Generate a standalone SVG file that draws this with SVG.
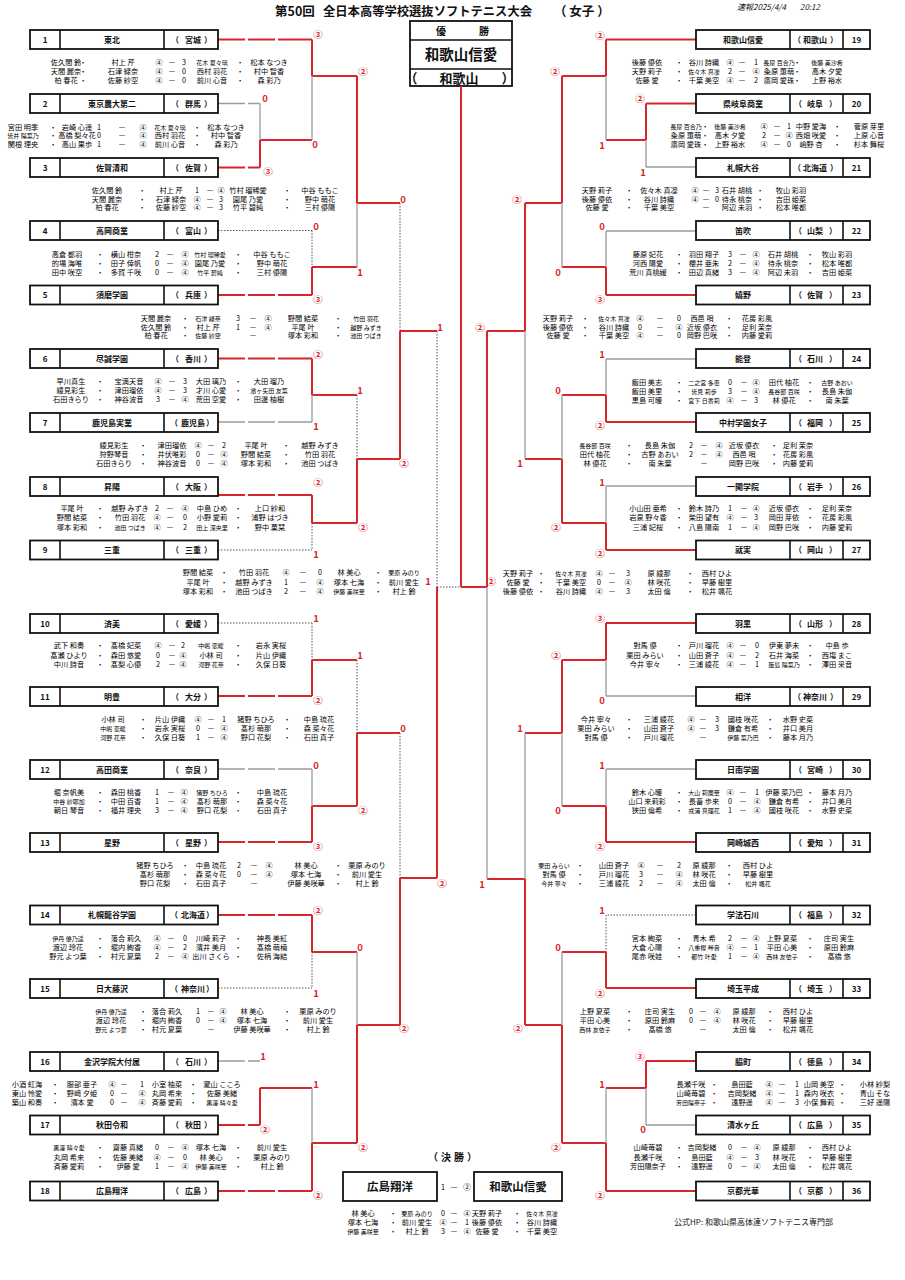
<svg xmlns="http://www.w3.org/2000/svg" width="905" height="1280" viewBox="0 0 905 1280">
<style>
text{font-family:"Noto Sans CJK JP","Noto Sans",sans-serif;fill:#111}
.bx rect{fill:#fff;stroke:#111;stroke-width:1.8}
.bx path{stroke:#111;stroke-width:1.6;fill:none}
.bx text{font-size:8px;font-weight:bold;text-anchor:middle}
.w{stroke:#d9262c;stroke-width:2;fill:none}
.l{stroke:#9a9a9a;stroke-width:1.3;fill:none}
.d{stroke:#555;stroke-width:1;stroke-dasharray:1.5 1.5;fill:none}
.g{stroke-dasharray:27 3 27 3 400}
.sc text{font-size:9.5px;font-weight:bold;fill:#d9262c;text-anchor:middle}
.m text{font-size:7.2px;text-anchor:middle;fill:#000}
.m .s{font-size:6px}
</style>

<g id="header">
<text x="275" y="16" font-size="12.5" font-weight="bold">第50回</text>
<text x="323" y="16" font-size="12.5" font-weight="bold" textLength="209" lengthAdjust="spacingAndGlyphs">全日本高等学校選抜ソフトテニス大会</text>
<text x="554" y="16" font-size="12.5" font-weight="bold">（ 女子 ）</text>
<text x="737" y="10" font-size="8" font-style="italic">速報2025/4/4</text>
<text x="800" y="10" font-size="8" font-style="italic">20:12</text>
</g>

<g id="champion" class="bx">
<rect x="410" y="21" width="102" height="65"/>
<path d="M410 40H512M410 69H512"/>
<text x="441" y="34.5" style="font-size:10px">優</text>
<text x="484" y="34.5" style="font-size:10px">勝</text>
<text x="461" y="60" style="font-size:14.5px">和歌山信愛</text>
<text y="82.5" style="font-size:13px"><tspan x="411">（</tspan><tspan x="459">和歌山</tspan><tspan x="508">）</tspan></text>
</g>

<g id="connectors">
<path class="w g" d="M218 39.5H312M218 167.5H260M218 295H312M218 358.5H312M218 495H312M218 696H312M218 842H312M218 915H312M218 1125H260M218 1191H312"/>
<path class="l g" d="M218 103.5H260M218 422H312M218 769H312M218 1061H260"/>
<path class="d" d="M218 230.5H312M218 550H312M218 623H312M218 988H312"/>
<path class="w" d="M260 140V167.5M260 140H312M312 39.5V76M312 76H357M312 267V295M312 267H357M357 76V203M357 203H400M312 358.5V395M312 395H357M312 495V523M312 523H357M357 459V523M357 459H400M400 331V459M400 331H437M312 660V696M312 660H357M312 806V842M312 806H357M357 733V806M357 733H400M312 915V952M312 952H357M260 1088V1125M260 1088H312M312 1143V1191M312 1143H357M357 1025V1143M357 1025H400M400 878V1025M400 878H437M437 587V878"/>
<path class="l" d="M260 103.5V140M312 76V140M357 203V267M312 395V422M312 769V806M312 1088V1143M357 952V1025"/>
<path class="d" d="M312 230.5V267M312 523V550M357 395V459M400 203V331M312 623V660M357 660V733M312 952V988M400 733V878M437 331V587M437 587H461"/>
<path class="w" d="M696 39.5H606M696 103.5H646M696 295H606M696 422H606M696 550H606M696 623H606M696 842H606M696 988H606M696 1061H646M696 1191H606"/>
<path class="l" d="M696 167H646M696 231H606M696 359H606M696 486H606M696 696H606M696 769H606M696 1125H646"/>
<path class="d" d="M696 915H606M606 915V952"/>
<path class="w" d="M646 103.5V140M646 140H606M606 39.5V76M606 76H562M606 267V295M606 267H562M562 76V203M562 203H525M606 395V422M606 395H562M606 523V550M606 523H562M562 459V523M562 459H525M525 203V331M525 331H487M606 623V660M606 660H562M606 806V842M606 806H562M562 660V733M562 733H525M606 952V988M606 952H562M646 1061V1088M646 1088H606M606 1143V1191M606 1143H562M562 1025V1143M562 1025H525M525 879V1025M525 879H487M487 331V587M487 587H461M461 86V587"/>
<path class="l" d="M646 140V167M606 76V140M606 231V267M562 203V267M606 359V395M606 486V523M562 395V459M525 331V459M606 660V696M606 769V806M562 733V806M646 1088V1125M606 1088V1143M562 952V1025M525 733V879M487 587V879"/>
</g>

<g id="scores" class="sc">
<text x="318" y="38">③</text><text x="265" y="102">0</text><text x="268" y="175">③</text><text x="315" y="148">0</text><text x="363" y="75">②</text>
<text x="316" y="230">0</text><text x="318" y="303">③</text><text x="360" y="276">1</text><text x="403" y="203">0</text>
<text x="318" y="358">②</text><text x="316" y="430">1</text><text x="360" y="394">1</text><text x="318" y="486">②</text><text x="316" y="558">1</text><text x="363" y="531">②</text><text x="404" y="467">②</text>
<text x="440" y="331">1</text><text x="428" y="585">1</text>
<text x="316" y="622">1</text><text x="318" y="704">②</text><text x="360" y="659">1</text><text x="316" y="769">0</text><text x="318" y="850">③</text><text x="363" y="814">②</text><text x="403" y="732">0</text>
<text x="318" y="914">②</text><text x="316" y="997">1</text><text x="360" y="951">0</text><text x="263" y="1060">1</text><text x="265" y="1133">②</text><text x="316" y="1088">1</text><text x="318" y="1199">②</text><text x="363" y="1151">②</text><text x="404" y="1032">②</text><text x="442" y="887">②</text>
<text x="600" y="39">②</text><text x="640" y="102">②</text><text x="643" y="176">1</text><text x="602" y="149">1</text><text x="555" y="75">②</text>
<text x="602" y="230">0</text><text x="600" y="303">③</text><text x="558" y="276">0</text><text x="517" y="203">②</text>
<text x="602" y="358">1</text><text x="600" y="429">②</text><text x="558" y="394">0</text><text x="602" y="486">1</text><text x="600" y="557">②</text><text x="556" y="531">②</text><text x="520" y="467">1</text>
<text x="480" y="331">②</text><text x="491" y="585">②</text>
<text x="600" y="622">③</text><text x="602" y="704">0</text><text x="556" y="659">②</text><text x="602" y="769">1</text><text x="600" y="850">②</text><text x="558" y="814">0</text><text x="520" y="732">1</text>
<text x="602" y="914">1</text><text x="600" y="997">②</text><text x="558" y="951">0</text><text x="640" y="1060">③</text><text x="643" y="1133">0</text><text x="602" y="1088">1</text><text x="600" y="1199">②</text><text x="556" y="1151">②</text><text x="518" y="1032">②</text><text x="482" y="888">1</text>
</g>

<g id="t1" class="bx" transform="translate(30,30)"><rect width="188" height="19"/><path d="M30 0V19M134 0V19"/><text x="15" y="12.8">1</text><text x="82" y="12.8">東北</text><text y="12.8"><tspan x="145">（</tspan><tspan x="163">宮城</tspan><tspan x="178">）</tspan></text></g>
<g id="t2" class="bx" transform="translate(30,94)"><rect width="188" height="19"/><path d="M30 0V19M134 0V19"/><text x="15" y="12.8">2</text><text x="82" y="12.8">東京農大第二</text><text y="12.8"><tspan x="145">（</tspan><tspan x="163">群馬</tspan><tspan x="178">）</tspan></text></g>
<g id="t3" class="bx" transform="translate(30,158)"><rect width="188" height="19"/><path d="M30 0V19M134 0V19"/><text x="15" y="12.8">3</text><text x="82" y="12.8">佐賀清和</text><text y="12.8"><tspan x="145">（</tspan><tspan x="163">佐賀</tspan><tspan x="178">）</tspan></text></g>
<g id="t4" class="bx" transform="translate(30,221)"><rect width="188" height="19"/><path d="M30 0V19M134 0V19"/><text x="15" y="12.8">4</text><text x="82" y="12.8">高岡商業</text><text y="12.8"><tspan x="145">（</tspan><tspan x="163">富山</tspan><tspan x="178">）</tspan></text></g>
<g id="t5" class="bx" transform="translate(30,285.5)"><rect width="188" height="19"/><path d="M30 0V19M134 0V19"/><text x="15" y="12.8">5</text><text x="82" y="12.8">須磨学園</text><text y="12.8"><tspan x="145">（</tspan><tspan x="163">兵庫</tspan><tspan x="178">）</tspan></text></g>
<g id="t6" class="bx" transform="translate(30,349)"><rect width="188" height="19"/><path d="M30 0V19M134 0V19"/><text x="15" y="12.8">6</text><text x="82" y="12.8">尽誠学園</text><text y="12.8"><tspan x="145">（</tspan><tspan x="163">香川</tspan><tspan x="178">）</tspan></text></g>
<g id="t7" class="bx" transform="translate(30,413)"><rect width="188" height="19"/><path d="M30 0V19M134 0V19"/><text x="15" y="12.8">7</text><text x="82" y="12.8">鹿児島実業</text><text y="12.8"><tspan x="144">（</tspan><tspan x="163">鹿児島</tspan><tspan x="180">）</tspan></text></g>
<g id="t8" class="bx" transform="translate(30,477)"><rect width="188" height="19"/><path d="M30 0V19M134 0V19"/><text x="15" y="12.8">8</text><text x="82" y="12.8">昇陽</text><text y="12.8"><tspan x="145">（</tspan><tspan x="163">大阪</tspan><tspan x="178">）</tspan></text></g>
<g id="t9" class="bx" transform="translate(30,540.5)"><rect width="188" height="19"/><path d="M30 0V19M134 0V19"/><text x="15" y="12.8">9</text><text x="82" y="12.8">三重</text><text y="12.8"><tspan x="145">（</tspan><tspan x="163">三重</tspan><tspan x="178">）</tspan></text></g>
<g id="t10" class="bx" transform="translate(30,614)"><rect width="188" height="19"/><path d="M30 0V19M134 0V19"/><text x="15" y="12.8">10</text><text x="82" y="12.8">済美</text><text y="12.8"><tspan x="145">（</tspan><tspan x="163">愛媛</tspan><tspan x="178">）</tspan></text></g>
<g id="t11" class="bx" transform="translate(30,687)"><rect width="188" height="19"/><path d="M30 0V19M134 0V19"/><text x="15" y="12.8">11</text><text x="82" y="12.8">明豊</text><text y="12.8"><tspan x="145">（</tspan><tspan x="163">大分</tspan><tspan x="178">）</tspan></text></g>
<g id="t12" class="bx" transform="translate(30,760)"><rect width="188" height="19"/><path d="M30 0V19M134 0V19"/><text x="15" y="12.8">12</text><text x="82" y="12.8">高田商業</text><text y="12.8"><tspan x="145">（</tspan><tspan x="163">奈良</tspan><tspan x="178">）</tspan></text></g>
<g id="t13" class="bx" transform="translate(30,833)"><rect width="188" height="19"/><path d="M30 0V19M134 0V19"/><text x="15" y="12.8">13</text><text x="82" y="12.8">星野</text><text y="12.8"><tspan x="145">（</tspan><tspan x="163">星野</tspan><tspan x="178">）</tspan></text></g>
<g id="t14" class="bx" transform="translate(30,905.5)"><rect width="188" height="19"/><path d="M30 0V19M134 0V19"/><text x="15" y="12.8">14</text><text x="82" y="12.8">札幌龍谷学園</text><text y="12.8"><tspan x="144">（</tspan><tspan x="163">北海道</tspan><tspan x="180">）</tspan></text></g>
<g id="t15" class="bx" transform="translate(30,979)"><rect width="188" height="19"/><path d="M30 0V19M134 0V19"/><text x="15" y="12.8">15</text><text x="82" y="12.8">日大藤沢</text><text y="12.8"><tspan x="144">（</tspan><tspan x="163">神奈川</tspan><tspan x="180">）</tspan></text></g>
<g id="t16" class="bx" transform="translate(30,1052)"><rect width="188" height="19"/><path d="M30 0V19M134 0V19"/><text x="15" y="12.8">16</text><text x="82" y="12.8">金沢学院大付属</text><text y="12.8"><tspan x="145">（</tspan><tspan x="163">石川</tspan><tspan x="178">）</tspan></text></g>
<g id="t17" class="bx" transform="translate(30,1115.5)"><rect width="188" height="19"/><path d="M30 0V19M134 0V19"/><text x="15" y="12.8">17</text><text x="82" y="12.8">秋田令和</text><text y="12.8"><tspan x="145">（</tspan><tspan x="163">秋田</tspan><tspan x="178">）</tspan></text></g>
<g id="t18" class="bx" transform="translate(30,1181.5)"><rect width="188" height="19"/><path d="M30 0V19M134 0V19"/><text x="15" y="12.8">18</text><text x="82" y="12.8">広島翔洋</text><text y="12.8"><tspan x="145">（</tspan><tspan x="163">広島</tspan><tspan x="178">）</tspan></text></g>

<g id="t19" class="bx" transform="translate(696,30)"><rect width="174" height="19"/><path d="M94 0V19M147 0V19"/><text x="47" y="12.8">和歌山信愛</text><text y="12.8"><tspan x="101">（</tspan><tspan x="119">和歌山</tspan><tspan x="138">）</tspan></text><text x="160.5" y="12.8">19</text></g>
<g id="t20" class="bx" transform="translate(696,94)"><rect width="174" height="19"/><path d="M94 0V19M147 0V19"/><text x="47" y="12.8">県岐阜商業</text><text y="12.8"><tspan x="102">（</tspan><tspan x="119">岐阜</tspan><tspan x="137">）</tspan></text><text x="160.5" y="12.8">20</text></g>
<g id="t21" class="bx" transform="translate(696,158)"><rect width="174" height="19"/><path d="M94 0V19M147 0V19"/><text x="47" y="12.8">札幌大谷</text><text y="12.8"><tspan x="101">（</tspan><tspan x="119">北海道</tspan><tspan x="138">）</tspan></text><text x="160.5" y="12.8">21</text></g>
<g id="t22" class="bx" transform="translate(696,221)"><rect width="174" height="19"/><path d="M94 0V19M147 0V19"/><text x="47" y="12.8">笛吹</text><text y="12.8"><tspan x="102">（</tspan><tspan x="119">山梨</tspan><tspan x="137">）</tspan></text><text x="160.5" y="12.8">22</text></g>
<g id="t23" class="bx" transform="translate(696,285.5)"><rect width="174" height="19"/><path d="M94 0V19M147 0V19"/><text x="47" y="12.8">嬉野</text><text y="12.8"><tspan x="102">（</tspan><tspan x="119">佐賀</tspan><tspan x="137">）</tspan></text><text x="160.5" y="12.8">23</text></g>
<g id="t24" class="bx" transform="translate(696,349)"><rect width="174" height="19"/><path d="M94 0V19M147 0V19"/><text x="47" y="12.8">能登</text><text y="12.8"><tspan x="102">（</tspan><tspan x="119">石川</tspan><tspan x="137">）</tspan></text><text x="160.5" y="12.8">24</text></g>
<g id="t25" class="bx" transform="translate(696,413)"><rect width="174" height="19"/><path d="M94 0V19M147 0V19"/><text x="47" y="12.8">中村学園女子</text><text y="12.8"><tspan x="102">（</tspan><tspan x="119">福岡</tspan><tspan x="137">）</tspan></text><text x="160.5" y="12.8">25</text></g>
<g id="t26" class="bx" transform="translate(696,477)"><rect width="174" height="19"/><path d="M94 0V19M147 0V19"/><text x="47" y="12.8">一関学院</text><text y="12.8"><tspan x="102">（</tspan><tspan x="119">岩手</tspan><tspan x="137">）</tspan></text><text x="160.5" y="12.8">26</text></g>
<g id="t27" class="bx" transform="translate(696,540.5)"><rect width="174" height="19"/><path d="M94 0V19M147 0V19"/><text x="47" y="12.8">就実</text><text y="12.8"><tspan x="102">（</tspan><tspan x="119">岡山</tspan><tspan x="137">）</tspan></text><text x="160.5" y="12.8">27</text></g>
<g id="t28" class="bx" transform="translate(696,614)"><rect width="174" height="19"/><path d="M94 0V19M147 0V19"/><text x="47" y="12.8">羽黒</text><text y="12.8"><tspan x="102">（</tspan><tspan x="119">山形</tspan><tspan x="137">）</tspan></text><text x="160.5" y="12.8">28</text></g>
<g id="t29" class="bx" transform="translate(696,687)"><rect width="174" height="19"/><path d="M94 0V19M147 0V19"/><text x="47" y="12.8">相洋</text><text y="12.8"><tspan x="101">（</tspan><tspan x="119">神奈川</tspan><tspan x="138">）</tspan></text><text x="160.5" y="12.8">29</text></g>
<g id="t30" class="bx" transform="translate(696,760)"><rect width="174" height="19"/><path d="M94 0V19M147 0V19"/><text x="47" y="12.8">日南学園</text><text y="12.8"><tspan x="102">（</tspan><tspan x="119">宮崎</tspan><tspan x="137">）</tspan></text><text x="160.5" y="12.8">30</text></g>
<g id="t31" class="bx" transform="translate(696,833)"><rect width="174" height="19"/><path d="M94 0V19M147 0V19"/><text x="47" y="12.8">岡崎城西</text><text y="12.8"><tspan x="102">（</tspan><tspan x="119">愛知</tspan><tspan x="137">）</tspan></text><text x="160.5" y="12.8">31</text></g>
<g id="t32" class="bx" transform="translate(696,905.5)"><rect width="174" height="19"/><path d="M94 0V19M147 0V19"/><text x="47" y="12.8">学法石川</text><text y="12.8"><tspan x="102">（</tspan><tspan x="119">福島</tspan><tspan x="137">）</tspan></text><text x="160.5" y="12.8">32</text></g>
<g id="t33" class="bx" transform="translate(696,979)"><rect width="174" height="19"/><path d="M94 0V19M147 0V19"/><text x="47" y="12.8">埼玉平成</text><text y="12.8"><tspan x="102">（</tspan><tspan x="119">埼玉</tspan><tspan x="137">）</tspan></text><text x="160.5" y="12.8">33</text></g>
<g id="t34" class="bx" transform="translate(696,1052)"><rect width="174" height="19"/><path d="M94 0V19M147 0V19"/><text x="47" y="12.8">脇町</text><text y="12.8"><tspan x="102">（</tspan><tspan x="119">徳島</tspan><tspan x="137">）</tspan></text><text x="160.5" y="12.8">34</text></g>
<g id="t35" class="bx" transform="translate(696,1115.5)"><rect width="174" height="19"/><path d="M94 0V19M147 0V19"/><text x="47" y="12.8">清水ヶ丘</text><text y="12.8"><tspan x="102">（</tspan><tspan x="119">広島</tspan><tspan x="137">）</tspan></text><text x="160.5" y="12.8">35</text></g>
<g id="t36" class="bx" transform="translate(696,1181.5)"><rect width="174" height="19"/><path d="M94 0V19M147 0V19"/><text x="47" y="12.8">京都光華</text><text y="12.8"><tspan x="102">（</tspan><tspan x="119">京都</tspan><tspan x="137">）</tspan></text><text x="160.5" y="12.8">36</text></g>

<g id="final">
<text y="1161" font-size="10" font-weight="bold" text-anchor="middle"><tspan x="433">（</tspan><tspan x="446">決</tspan><tspan x="459">勝</tspan><tspan x="472">）</tspan></text>
<g class="bx"><rect x="343" y="1172" width="94" height="29"/><rect x="474" y="1172" width="88" height="29"/>
<text x="390" y="1191" style="font-size:11.5px">広島翔洋</text><text x="518" y="1191" style="font-size:11.5px">和歌山信愛</text></g>
<text y="1190" font-size="8" text-anchor="middle"><tspan x="443">1</tspan><tspan x="454">—</tspan><tspan x="467">②</tspan></text>
</g>

<g id="matches" class="m">
<text y="65"><tspan x="66">佐久間 鈴</tspan><tspan x="83">・</tspan><tspan x="123">村上 芹</tspan><tspan x="159">④</tspan><tspan x="172">—</tspan><tspan x="184">3</tspan><tspan x="212" class="s">花木 夏々璃</tspan><tspan x="240">・</tspan><tspan x="269">松本 なつき</tspan></text>
<text y="74"><tspan x="66">天間 麗奈</tspan><tspan x="83">・</tspan><tspan x="123">石津 緑奈</tspan><tspan x="159">④</tspan><tspan x="172">—</tspan><tspan x="184">0</tspan><tspan x="212">西村 羽花</tspan><tspan x="240">・</tspan><tspan x="269">村中 智香</tspan></text>
<text y="83"><tspan x="66">柏 春花</tspan><tspan x="83">・</tspan><tspan x="123">佐藤 紗空</tspan><tspan x="159">④</tspan><tspan x="172">—</tspan><tspan x="184">0</tspan><tspan x="212">前川 心音</tspan><tspan x="240">・</tspan><tspan x="269">森 彩乃</tspan></text>

<text y="129.5"><tspan x="23">宮田 明季</tspan><tspan x="53">・</tspan><tspan x="77">岩崎 心遥</tspan><tspan x="99">1</tspan><tspan x="122">—</tspan><tspan x="143">④</tspan><tspan x="170" class="s">花木 夏々璃</tspan><tspan x="197">・</tspan><tspan x="226">松本 なつき</tspan></text>
<text y="138"><tspan x="23" class="s">皆井 陽菜乃</tspan><tspan x="53">・</tspan><tspan x="77">高橋 梨々花</tspan><tspan x="99">0</tspan><tspan x="122">—</tspan><tspan x="143">④</tspan><tspan x="170">西村 羽花</tspan><tspan x="197">・</tspan><tspan x="226">村中 智香</tspan></text>
<text y="146.5"><tspan x="23">関根 理央</tspan><tspan x="53">・</tspan><tspan x="77">高山 果歩</tspan><tspan x="99">1</tspan><tspan x="122">—</tspan><tspan x="143">④</tspan><tspan x="170">前川 心音</tspan><tspan x="197">・</tspan><tspan x="226">森 彩乃</tspan></text>

<text y="192.5"><tspan x="107">佐久間 鈴</tspan><tspan x="142">・</tspan><tspan x="171">村上 芹</tspan><tspan x="197">1</tspan><tspan x="210">—</tspan><tspan x="221">④</tspan><tspan x="248">竹村 瑠稀愛</tspan><tspan x="287">・</tspan><tspan x="320">中谷 ももこ</tspan></text>
<text y="201.5"><tspan x="107">天間 麗奈</tspan><tspan x="142">・</tspan><tspan x="171">石津 緑奈</tspan><tspan x="197">④</tspan><tspan x="210">—</tspan><tspan x="221">3</tspan><tspan x="248">園尾 乃愛</tspan><tspan x="287">・</tspan><tspan x="320">野中 萌花</tspan></text>
<text y="210"><tspan x="107">柏 春花</tspan><tspan x="142">・</tspan><tspan x="171">佐藤 紗空</tspan><tspan x="197">④</tspan><tspan x="210">—</tspan><tspan x="221">3</tspan><tspan x="248">竹平 碧純</tspan><tspan x="287">・</tspan><tspan x="320">三村 優陽</tspan></text>

<text y="257"><tspan x="67">高倉 都羽</tspan><tspan x="100">・</tspan><tspan x="126">横山 柑奈</tspan><tspan x="157">2</tspan><tspan x="170">—</tspan><tspan x="185">④</tspan><tspan x="210" class="s">竹村 瑠稀愛</tspan><tspan x="238">・</tspan><tspan x="272">中谷 ももこ</tspan></text>
<text y="266"><tspan x="67">的場 海唯</tspan><tspan x="100">・</tspan><tspan x="126">田子 倖帆</tspan><tspan x="157">0</tspan><tspan x="170">—</tspan><tspan x="185">④</tspan><tspan x="210">園尾 乃愛</tspan><tspan x="238">・</tspan><tspan x="272">野中 萌花</tspan></text>
<text y="275"><tspan x="67">田中 咲空</tspan><tspan x="100">・</tspan><tspan x="126">多賀 千咲</tspan><tspan x="157">0</tspan><tspan x="170">—</tspan><tspan x="185">④</tspan><tspan x="210" class="s">竹平 碧純</tspan><tspan x="238">・</tspan><tspan x="272">三村 優陽</tspan></text>

<text y="320.5"><tspan x="156">天間 麗奈</tspan><tspan x="185">・</tspan><tspan x="208" class="s">石津 緑奈</tspan><tspan x="238">3</tspan><tspan x="253">—</tspan><tspan x="268">④</tspan><tspan x="303">野間 結菜</tspan><tspan x="338">・</tspan><tspan x="366" class="s">竹田 羽花</tspan></text>
<text y="329.5"><tspan x="156">佐久間 鈴</tspan><tspan x="185">・</tspan><tspan x="208">村上 芹</tspan><tspan x="238">1</tspan><tspan x="253">—</tspan><tspan x="268">④</tspan><tspan x="303">平尾 叶</tspan><tspan x="338">・</tspan><tspan x="366" class="s">越野 みずき</tspan></text>
<text y="338"><tspan x="156">柏 春花</tspan><tspan x="185">・</tspan><tspan x="208" class="s">佐藤 紗空</tspan><tspan x="253">—</tspan><tspan x="303">塚本 彩和</tspan><tspan x="338">・</tspan><tspan x="366" class="s">池田 つばき</tspan></text>

<text y="384"><tspan x="71">早川真生</tspan><tspan x="100">・</tspan><tspan x="129">宝満天音</tspan><tspan x="158">④</tspan><tspan x="172">—</tspan><tspan x="185">3</tspan><tspan x="211">大田 璃乃</tspan><tspan x="238">・</tspan><tspan x="269">大田 瑠乃</tspan></text>
<text y="393"><tspan x="71">綾見彩生</tspan><tspan x="100">・</tspan><tspan x="129">津田瑠依</tspan><tspan x="158">④</tspan><tspan x="172">—</tspan><tspan x="185">3</tspan><tspan x="211">才川 心愛</tspan><tspan x="238">・</tspan><tspan x="269" class="s">濱ヶ矢田 友菜</tspan></text>
<text y="402"><tspan x="71">石田きらり</tspan><tspan x="100">・</tspan><tspan x="129">神谷波音</tspan><tspan x="158">3</tspan><tspan x="172">—</tspan><tspan x="185">④</tspan><tspan x="211">荒田 空愛</tspan><tspan x="238">・</tspan><tspan x="269">田邊 柚樹</tspan></text>

<text y="448"><tspan x="114">綾見彩生</tspan><tspan x="143">・</tspan><tspan x="172">津田瑠依</tspan><tspan x="198">④</tspan><tspan x="211">—</tspan><tspan x="224">2</tspan><tspan x="256">平尾 叶</tspan><tspan x="286">・</tspan><tspan x="320">越野 みずき</tspan></text>
<text y="457"><tspan x="114">狩野琴音</tspan><tspan x="143">・</tspan><tspan x="172">井伏唯彩</tspan><tspan x="198">0</tspan><tspan x="211">—</tspan><tspan x="224">④</tspan><tspan x="256">野間 結菜</tspan><tspan x="286">・</tspan><tspan x="320">竹田 羽花</tspan></text>
<text y="466"><tspan x="114">石田きらり</tspan><tspan x="143">・</tspan><tspan x="172">神谷波音</tspan><tspan x="198">0</tspan><tspan x="211">—</tspan><tspan x="224">④</tspan><tspan x="256">塚本 彩和</tspan><tspan x="286">・</tspan><tspan x="320">池田 つばき</tspan></text>

<text y="511"><tspan x="72">平尾 叶</tspan><tspan x="100">・</tspan><tspan x="130">越野 みずき</tspan><tspan x="157">2</tspan><tspan x="170">—</tspan><tspan x="185">④</tspan><tspan x="212">中島 ひめ</tspan><tspan x="238">・</tspan><tspan x="270">上口 紗和</tspan></text>
<text y="520"><tspan x="72">野間 結菜</tspan><tspan x="100">・</tspan><tspan x="130">竹田 羽花</tspan><tspan x="157">④</tspan><tspan x="170">—</tspan><tspan x="185">0</tspan><tspan x="212">小野 愛莉</tspan><tspan x="238">・</tspan><tspan x="270">浦野 はづき</tspan></text>
<text y="529.5"><tspan x="72">塚本 彩和</tspan><tspan x="100">・</tspan><tspan x="130" class="s">池田 つばき</tspan><tspan x="157">④</tspan><tspan x="170">—</tspan><tspan x="185">2</tspan><tspan x="212" class="s">田上 深央里</tspan><tspan x="238">・</tspan><tspan x="270">野中 菓栞</tspan></text>

<text y="575"><tspan x="198">野間 結菜</tspan><tspan x="224">・</tspan><tspan x="254">竹田 羽花</tspan><tspan x="286">④</tspan><tspan x="303">—</tspan><tspan x="320">0</tspan><tspan x="349">林 美心</tspan><tspan x="378">・</tspan><tspan x="404" class="s">栗原 みのり</tspan></text>
<text y="584.5"><tspan x="198">平尾 叶</tspan><tspan x="224">・</tspan><tspan x="254">越野 みずき</tspan><tspan x="286">1</tspan><tspan x="303">—</tspan><tspan x="320">④</tspan><tspan x="349">塚本 七海</tspan><tspan x="378">・</tspan><tspan x="404">前川 愛生</tspan></text>
<text y="593.5"><tspan x="198">塚本 彩和</tspan><tspan x="224">・</tspan><tspan x="254">池田 つばき</tspan><tspan x="286">2</tspan><tspan x="303">—</tspan><tspan x="320">④</tspan><tspan x="349" class="s">伊藤 美咲華</tspan><tspan x="378">・</tspan><tspan x="404">村上 鈴</tspan></text>

<text y="648"><tspan x="69">武下 和奏</tspan><tspan x="100">・</tspan><tspan x="126">髙橋 妃菜</tspan><tspan x="158">④</tspan><tspan x="172">—</tspan><tspan x="183">2</tspan><tspan x="211" class="s">中嶋 恋暖</tspan><tspan x="238">・</tspan><tspan x="271">岩永 実桜</tspan></text>
<text y="657.5"><tspan x="69">髙瀬 ひより</tspan><tspan x="100">・</tspan><tspan x="126">森田 悠愛</tspan><tspan x="158">0</tspan><tspan x="172">—</tspan><tspan x="183">④</tspan><tspan x="211">小林 司</tspan><tspan x="238">・</tspan><tspan x="271">片山 伊織</tspan></text>
<text y="666.5"><tspan x="69">中川 詩音</tspan><tspan x="100">・</tspan><tspan x="126">髙梨 心優</tspan><tspan x="158">2</tspan><tspan x="172">—</tspan><tspan x="183">④</tspan><tspan x="211" class="s">河野 花奈</tspan><tspan x="238">・</tspan><tspan x="271">久保 日葵</tspan></text>

<text y="721.5"><tspan x="113">小林 司</tspan><tspan x="143">・</tspan><tspan x="170">片山 伊織</tspan><tspan x="198">④</tspan><tspan x="211">—</tspan><tspan x="224">1</tspan><tspan x="256">猪野 ちひろ</tspan><tspan x="287">・</tspan><tspan x="319">中島 琉花</tspan></text>
<text y="731"><tspan x="113" class="s">中嶋 恋暖</tspan><tspan x="143">・</tspan><tspan x="170">岩永 実桜</tspan><tspan x="198">0</tspan><tspan x="211">—</tspan><tspan x="224">④</tspan><tspan x="256">髙杉 萌那</tspan><tspan x="287">・</tspan><tspan x="319">森 菜々花</tspan></text>
<text y="740"><tspan x="113" class="s">河野 花奈</tspan><tspan x="143">・</tspan><tspan x="170">久保 日葵</tspan><tspan x="198">1</tspan><tspan x="211">—</tspan><tspan x="224">④</tspan><tspan x="256">野口 花梨</tspan><tspan x="287">・</tspan><tspan x="319">石田 真子</tspan></text>

<text y="795"><tspan x="69">堀 奈帆美</tspan><tspan x="100">・</tspan><tspan x="126">森田 桃香</tspan><tspan x="157">1</tspan><tspan x="171">—</tspan><tspan x="184">④</tspan><tspan x="212" class="s">猪野 ちひろ</tspan><tspan x="238">・</tspan><tspan x="272">中島 琉花</tspan></text>
<text y="804"><tspan x="69" class="s">中谷 紗耶加</tspan><tspan x="100">・</tspan><tspan x="126">中田 百香</tspan><tspan x="157">1</tspan><tspan x="171">—</tspan><tspan x="184">④</tspan><tspan x="212">髙杉 萌那</tspan><tspan x="238">・</tspan><tspan x="272">森 菜々花</tspan></text>
<text y="813"><tspan x="69">朝日 琴音</tspan><tspan x="100">・</tspan><tspan x="126">福井 理央</tspan><tspan x="157">3</tspan><tspan x="171">—</tspan><tspan x="184">④</tspan><tspan x="212">野口 花梨</tspan><tspan x="238">・</tspan><tspan x="272">石田 真子</tspan></text>

<text y="868"><tspan x="155">猪野 ちひろ</tspan><tspan x="185">・</tspan><tspan x="211">中島 琉花</tspan><tspan x="239">2</tspan><tspan x="254">—</tspan><tspan x="269">④</tspan><tspan x="306">林 美心</tspan><tspan x="338">・</tspan><tspan x="367">栗原 みのり</tspan></text>
<text y="877"><tspan x="155">髙杉 萌那</tspan><tspan x="185">・</tspan><tspan x="211">森 菜々花</tspan><tspan x="239">0</tspan><tspan x="254">—</tspan><tspan x="269">④</tspan><tspan x="306">塚本 七海</tspan><tspan x="338">・</tspan><tspan x="367">前川 愛生</tspan></text>
<text y="886"><tspan x="155">野口 花梨</tspan><tspan x="185">・</tspan><tspan x="211">石田 真子</tspan><tspan x="254">—</tspan><tspan x="306">伊藤 美咲華</tspan><tspan x="338">・</tspan><tspan x="367">村上 鈴</tspan></text>

<text y="941"><tspan x="68" class="s">伊丹 優乃遥</tspan><tspan x="100">・</tspan><tspan x="126">落合 莉久</tspan><tspan x="157">④</tspan><tspan x="171">—</tspan><tspan x="185">0</tspan><tspan x="211">川崎 莉子</tspan><tspan x="238">・</tspan><tspan x="272">神長 美紅</tspan></text>
<text y="950"><tspan x="68">渡辺 玲花</tspan><tspan x="100">・</tspan><tspan x="126">堀内 絢香</tspan><tspan x="157">④</tspan><tspan x="171">—</tspan><tspan x="185">2</tspan><tspan x="211">濱井 美月</tspan><tspan x="238">・</tspan><tspan x="272">髙橋 萌楠</tspan></text>
<text y="959"><tspan x="68">野元 よつ葉</tspan><tspan x="100">・</tspan><tspan x="126">村元 夏葉</tspan><tspan x="157">2</tspan><tspan x="171">—</tspan><tspan x="185">④</tspan><tspan x="211">出川 さくら</tspan><tspan x="238">・</tspan><tspan x="272">佐柄 海結</tspan></text>

<text y="1014"><tspan x="111" class="s">伊丹 優乃遥</tspan><tspan x="143">・</tspan><tspan x="167">落合 莉久</tspan><tspan x="198">1</tspan><tspan x="211">—</tspan><tspan x="223">④</tspan><tspan x="252">林 美心</tspan><tspan x="287">・</tspan><tspan x="318">栗原 みのり</tspan></text>
<text y="1023"><tspan x="111">渡辺 玲花</tspan><tspan x="143">・</tspan><tspan x="167">堀内 絢香</tspan><tspan x="198">0</tspan><tspan x="211">—</tspan><tspan x="223">④</tspan><tspan x="252">塚本 七海</tspan><tspan x="287">・</tspan><tspan x="318">前川 愛生</tspan></text>
<text y="1032"><tspan x="111" class="s">野元 よつ葉</tspan><tspan x="143">・</tspan><tspan x="167">村元 夏葉</tspan><tspan x="211">—</tspan><tspan x="252">伊藤 美咲華</tspan><tspan x="287">・</tspan><tspan x="318">村上 鈴</tspan></text>

<text y="1086.5"><tspan x="27">小酒 虹海</tspan><tspan x="55">・</tspan><tspan x="82">服部 亜子</tspan><tspan x="112">④</tspan><tspan x="124">—</tspan><tspan x="142">1</tspan><tspan x="167">小室 柚菜</tspan><tspan x="193">・</tspan><tspan x="222">瀧山 こころ</tspan></text>
<text y="1096"><tspan x="27">東山 怜愛</tspan><tspan x="55">・</tspan><tspan x="82">野﨑 夕姫</tspan><tspan x="112">0</tspan><tspan x="124">—</tspan><tspan x="142">④</tspan><tspan x="167">丸岡 希来</tspan><tspan x="193">・</tspan><tspan x="222">佐藤 美緒</tspan></text>
<text y="1105"><tspan x="27">築山 和奏</tspan><tspan x="55">・</tspan><tspan x="82">濱本 愛</tspan><tspan x="112">0</tspan><tspan x="124">—</tspan><tspan x="142">④</tspan><tspan x="167">斉藤 愛莉</tspan><tspan x="193">・</tspan><tspan x="222" class="s">黒澤 晴々愛</tspan></text>

<text y="1150"><tspan x="69" class="s">黒澤 晴々愛</tspan><tspan x="100">・</tspan><tspan x="128">齋藤 真緒</tspan><tspan x="157">0</tspan><tspan x="171">—</tspan><tspan x="185">④</tspan><tspan x="211">塚本 七海</tspan><tspan x="238">・</tspan><tspan x="272">前川 愛生</tspan></text>
<text y="1160"><tspan x="69">丸岡 希来</tspan><tspan x="100">・</tspan><tspan x="128">佐藤 美緒</tspan><tspan x="157">④</tspan><tspan x="171">—</tspan><tspan x="185">0</tspan><tspan x="211">林 美心</tspan><tspan x="238">・</tspan><tspan x="272">栗原 みのり</tspan></text>
<text y="1169"><tspan x="69">斉藤 愛莉</tspan><tspan x="100">・</tspan><tspan x="128">伊藤 愛</tspan><tspan x="157">1</tspan><tspan x="171">—</tspan><tspan x="185">④</tspan><tspan x="211" class="s">伊藤 美咲華</tspan><tspan x="238">・</tspan><tspan x="272">村上 鈴</tspan></text>

<text y="1216"><tspan x="363">林 美心</tspan><tspan x="393">・</tspan><tspan x="417" class="s">栗原 みのり</tspan><tspan x="443">0</tspan><tspan x="454">—</tspan><tspan x="467">④</tspan><tspan x="487">天野 莉子</tspan><tspan x="517">・</tspan><tspan x="542" class="s">佐々木 真凜</tspan></text>
<text y="1225"><tspan x="363">塚本 七海</tspan><tspan x="393">・</tspan><tspan x="417">前川 愛生</tspan><tspan x="443">④</tspan><tspan x="454">—</tspan><tspan x="467">1</tspan><tspan x="487">後藤 優依</tspan><tspan x="517">・</tspan><tspan x="542">谷川 詩織</tspan></text>
<text y="1234"><tspan x="363" class="s">伊藤 美咲華</tspan><tspan x="393">・</tspan><tspan x="417">村上 鈴</tspan><tspan x="443">3</tspan><tspan x="454">—</tspan><tspan x="467">④</tspan><tspan x="487">佐藤 愛</tspan><tspan x="517">・</tspan><tspan x="542">千葉 美空</tspan></text>

<text y="65"><tspan x="647">後藤 優依</tspan><tspan x="679">・</tspan><tspan x="704">谷川 詩織</tspan><tspan x="730">④</tspan><tspan x="742">—</tspan><tspan x="756">1</tspan><tspan x="779" class="s">長屋 百合乃</tspan><tspan x="797">・</tspan><tspan x="827" class="s">後藤 美沙希</tspan></text>
<text y="74"><tspan x="647">天野 莉子</tspan><tspan x="679">・</tspan><tspan x="704" class="s">佐々木 真凜</tspan><tspan x="730">2</tspan><tspan x="742">—</tspan><tspan x="756">④</tspan><tspan x="779">粂原 蕙萌</tspan><tspan x="797">・</tspan><tspan x="827">高木 夕愛</tspan></text>
<text y="82.5"><tspan x="647">佐藤 愛</tspan><tspan x="679">・</tspan><tspan x="704">千葉 美空</tspan><tspan x="730">④</tspan><tspan x="742">—</tspan><tspan x="756">2</tspan><tspan x="779">廣岡 愛珠</tspan><tspan x="797">・</tspan><tspan x="827">上野 裕水</tspan></text>

<text y="128.5"><tspan x="686" class="s">長屋 百合乃</tspan><tspan x="705">・</tspan><tspan x="730" class="s">後藤 美沙希</tspan><tspan x="764">④</tspan><tspan x="777">—</tspan><tspan x="789">1</tspan><tspan x="811">中野 愛海</tspan><tspan x="837">・</tspan><tspan x="869">菅原 芽里</tspan></text>
<text y="137.5"><tspan x="686">粂原 蕙萌</tspan><tspan x="705">・</tspan><tspan x="730">高木 夕愛</tspan><tspan x="764">2</tspan><tspan x="777">—</tspan><tspan x="789">④</tspan><tspan x="811">西畑 咲愛</tspan><tspan x="837">・</tspan><tspan x="869">上原 心音</tspan></text>
<text y="146.5"><tspan x="686">廣岡 愛珠</tspan><tspan x="705">・</tspan><tspan x="730">上野 裕水</tspan><tspan x="764">④</tspan><tspan x="777">—</tspan><tspan x="789">0</tspan><tspan x="811">嶋野 杏</tspan><tspan x="837">・</tspan><tspan x="869">杉本 舞桜</tspan></text>

<text y="192.5"><tspan x="597">天野 莉子</tspan><tspan x="629">・</tspan><tspan x="659">佐々木 真凜</tspan><tspan x="695">④</tspan><tspan x="706">—</tspan><tspan x="717">3</tspan><tspan x="737">石井 胡桃</tspan><tspan x="760">・</tspan><tspan x="791">牧山 彩羽</tspan></text>
<text y="201.5"><tspan x="597">後藤 優依</tspan><tspan x="629">・</tspan><tspan x="659">谷川 詩織</tspan><tspan x="695">④</tspan><tspan x="706">—</tspan><tspan x="717">0</tspan><tspan x="737">待永 桃奈</tspan><tspan x="760">・</tspan><tspan x="791">吉田 姫菜</tspan></text>
<text y="210"><tspan x="597">佐藤 愛</tspan><tspan x="629">・</tspan><tspan x="659">千葉 美空</tspan><tspan x="706">—</tspan><tspan x="737">阿辺 未羽</tspan><tspan x="760">・</tspan><tspan x="791">松本 唯都</tspan></text>

<text y="257"><tspan x="648">藤原 妃花</tspan><tspan x="679">・</tspan><tspan x="704">羽田 翔子</tspan><tspan x="730">3</tspan><tspan x="743">—</tspan><tspan x="756">④</tspan><tspan x="783">石井 胡桃</tspan><tspan x="810">・</tspan><tspan x="837">牧山 彩羽</tspan></text>
<text y="266"><tspan x="648">河西 陽愛</tspan><tspan x="679">・</tspan><tspan x="704">櫻井 亜朱</tspan><tspan x="730">2</tspan><tspan x="743">—</tspan><tspan x="756">④</tspan><tspan x="783">待永 桃奈</tspan><tspan x="810">・</tspan><tspan x="837">松本 唯都</tspan></text>
<text y="275"><tspan x="648">荒川 真桃媛</tspan><tspan x="679">・</tspan><tspan x="704">田辺 真緒</tspan><tspan x="730">3</tspan><tspan x="743">—</tspan><tspan x="756">④</tspan><tspan x="783">阿辺 未羽</tspan><tspan x="810">・</tspan><tspan x="837">吉田 姫菜</tspan></text>

<text y="320.5"><tspan x="558">天野 莉子</tspan><tspan x="585">・</tspan><tspan x="614" class="s">佐々木 真凜</tspan><tspan x="640">④</tspan><tspan x="660">—</tspan><tspan x="679">0</tspan><tspan x="702">西邑 唄</tspan><tspan x="729">・</tspan><tspan x="757">花房 彩風</tspan></text>
<text y="329.5"><tspan x="558">後藤 優依</tspan><tspan x="585">・</tspan><tspan x="614">谷川 詩織</tspan><tspan x="640">0</tspan><tspan x="660">—</tspan><tspan x="679">④</tspan><tspan x="702">近坂 優衣</tspan><tspan x="729">・</tspan><tspan x="757">足利 茉奈</tspan></text>
<text y="338"><tspan x="558">佐藤 愛</tspan><tspan x="585">・</tspan><tspan x="614">千葉 美空</tspan><tspan x="640">④</tspan><tspan x="660">—</tspan><tspan x="679">0</tspan><tspan x="702">岡野 巴咲</tspan><tspan x="729">・</tspan><tspan x="757">内藤 愛莉</tspan></text>

<text y="384.5"><tspan x="647">飯田 美志</tspan><tspan x="679">・</tspan><tspan x="704" class="s">二之宮 多恵</tspan><tspan x="730">0</tspan><tspan x="744">—</tspan><tspan x="756">④</tspan><tspan x="784">田代 柚花</tspan><tspan x="810">・</tspan><tspan x="837" class="s">古野 あおい</tspan></text>
<text y="394"><tspan x="647">飯田 美里</tspan><tspan x="679">・</tspan><tspan x="704" class="s">皆見 莉歩</tspan><tspan x="730">3</tspan><tspan x="744">—</tspan><tspan x="756">④</tspan><tspan x="784" class="s">長谷部 百咲</tspan><tspan x="810">・</tspan><tspan x="837">長島 朱伽</tspan></text>
<text y="403"><tspan x="647">黒島 可暖</tspan><tspan x="679">・</tspan><tspan x="704" class="s">宮下 日香莉</tspan><tspan x="730">④</tspan><tspan x="744">—</tspan><tspan x="756">3</tspan><tspan x="784">林 優花</tspan><tspan x="810">・</tspan><tspan x="837">南 朱葉</tspan></text>

<text y="448"><tspan x="595" class="s">長谷部 百咲</tspan><tspan x="629">・</tspan><tspan x="660">長島 朱伽</tspan><tspan x="691">2</tspan><tspan x="704">—</tspan><tspan x="719">④</tspan><tspan x="744">近坂 優衣</tspan><tspan x="774">・</tspan><tspan x="798">足利 茉奈</tspan></text>
<text y="457"><tspan x="595">田代 柚花</tspan><tspan x="629">・</tspan><tspan x="660">古野 あおい</tspan><tspan x="691">2</tspan><tspan x="704">—</tspan><tspan x="719">④</tspan><tspan x="744">西邑 唄</tspan><tspan x="774">・</tspan><tspan x="798">花房 彩風</tspan></text>
<text y="466"><tspan x="595">林 優花</tspan><tspan x="629">・</tspan><tspan x="660">南 朱葉</tspan><tspan x="704">—</tspan><tspan x="744">岡野 巴咲</tspan><tspan x="774">・</tspan><tspan x="798">内藤 愛莉</tspan></text>

<text y="511"><tspan x="648">小山田 亜希</tspan><tspan x="679">・</tspan><tspan x="704">鈴木 詩乃</tspan><tspan x="730">1</tspan><tspan x="744">—</tspan><tspan x="756">④</tspan><tspan x="784">近坂 優衣</tspan><tspan x="810">・</tspan><tspan x="837">足利 茉奈</tspan></text>
<text y="520"><tspan x="648">岩泉 野々香</tspan><tspan x="679">・</tspan><tspan x="704">柴田 望有</tspan><tspan x="730">④</tspan><tspan x="744">—</tspan><tspan x="756">3</tspan><tspan x="784">岡田 芽依</tspan><tspan x="810">・</tspan><tspan x="837">花房 彩風</tspan></text>
<text y="529.5"><tspan x="648">三浦 妃桜</tspan><tspan x="679">・</tspan><tspan x="704">八島 陽南</tspan><tspan x="730">1</tspan><tspan x="744">—</tspan><tspan x="756">④</tspan><tspan x="784">岡野 巴咲</tspan><tspan x="810">・</tspan><tspan x="837">内藤 愛莉</tspan></text>

<text y="576"><tspan x="518">天野 莉子</tspan><tspan x="541">・</tspan><tspan x="571" class="s">佐々木 真凜</tspan><tspan x="599">④</tspan><tspan x="612">—</tspan><tspan x="628">3</tspan><tspan x="659">原 綾那</tspan><tspan x="690">・</tspan><tspan x="717">西村 ひよ</tspan></text>
<text y="585"><tspan x="518">佐藤 愛</tspan><tspan x="541">・</tspan><tspan x="571">千葉 美空</tspan><tspan x="599">0</tspan><tspan x="612">—</tspan><tspan x="628">④</tspan><tspan x="659">林 咲花</tspan><tspan x="690">・</tspan><tspan x="717">早藤 樹里</tspan></text>
<text y="594"><tspan x="518">後藤 優依</tspan><tspan x="541">・</tspan><tspan x="571">谷川 詩織</tspan><tspan x="599">④</tspan><tspan x="612">—</tspan><tspan x="628">3</tspan><tspan x="659">太田 倫</tspan><tspan x="690">・</tspan><tspan x="717">松井 颯花</tspan></text>

<text y="648"><tspan x="645">對馬 優</tspan><tspan x="679">・</tspan><tspan x="704">戸川 瑠花</tspan><tspan x="730">④</tspan><tspan x="743">—</tspan><tspan x="757">0</tspan><tspan x="784">伊東 夢未</tspan><tspan x="810">・</tspan><tspan x="837">中島 歩</tspan></text>
<text y="657.5"><tspan x="645">栗田 みらい</tspan><tspan x="679">・</tspan><tspan x="704">山田 蒼子</tspan><tspan x="730">④</tspan><tspan x="743">—</tspan><tspan x="757">2</tspan><tspan x="784">石井 海菜</tspan><tspan x="810">・</tspan><tspan x="837">西塲 まこ</tspan></text>
<text y="667"><tspan x="645">今井 寧々</tspan><tspan x="679">・</tspan><tspan x="704">三浦 綾花</tspan><tspan x="730">④</tspan><tspan x="743">—</tspan><tspan x="757">1</tspan><tspan x="784" class="s">飯島 陽菜乃</tspan><tspan x="810">・</tspan><tspan x="837">澤田 采音</tspan></text>

<text y="721.5"><tspan x="596">今井 寧々</tspan><tspan x="629">・</tspan><tspan x="659">三浦 綾花</tspan><tspan x="691">④</tspan><tspan x="703">—</tspan><tspan x="717">3</tspan><tspan x="743">國枝 咲花</tspan><tspan x="770">・</tspan><tspan x="798">水野 史菜</tspan></text>
<text y="731"><tspan x="596">栗田 みらい</tspan><tspan x="629">・</tspan><tspan x="659">山田 蒼子</tspan><tspan x="691">④</tspan><tspan x="703">—</tspan><tspan x="717">3</tspan><tspan x="743">鎌倉 有希</tspan><tspan x="770">・</tspan><tspan x="798">井口 美月</tspan></text>
<text y="740"><tspan x="596">對馬 優</tspan><tspan x="629">・</tspan><tspan x="659">戸川 瑠花</tspan><tspan x="703">—</tspan><tspan x="743" class="s">伊藤 菜乃巴</tspan><tspan x="770">・</tspan><tspan x="798">藤本 月乃</tspan></text>

<text y="795"><tspan x="647">鈴木 心暖</tspan><tspan x="679">・</tspan><tspan x="704" class="s">大山 莉薗華</tspan><tspan x="730">④</tspan><tspan x="743">—</tspan><tspan x="757">1</tspan><tspan x="784">伊藤 菜乃巴</tspan><tspan x="810">・</tspan><tspan x="837">藤本 月乃</tspan></text>
<text y="804"><tspan x="647">山口 来莉彩</tspan><tspan x="679">・</tspan><tspan x="704">長畜 歩来</tspan><tspan x="730">0</tspan><tspan x="743">—</tspan><tspan x="757">④</tspan><tspan x="784">鎌倉 有希</tspan><tspan x="810">・</tspan><tspan x="837">井口 美月</tspan></text>
<text y="813"><tspan x="647">狭田 倫希</tspan><tspan x="679">・</tspan><tspan x="704" class="s">戎浦 真理花</tspan><tspan x="730">1</tspan><tspan x="743">—</tspan><tspan x="757">④</tspan><tspan x="784">國枝 咲花</tspan><tspan x="810">・</tspan><tspan x="837">水野 史菜</tspan></text>

<text y="868"><tspan x="554" class="s">栗田 みらい</tspan><tspan x="580">・</tspan><tspan x="614">山田 蒼子</tspan><tspan x="641">④</tspan><tspan x="660">—</tspan><tspan x="679">2</tspan><tspan x="704">原 綾那</tspan><tspan x="729">・</tspan><tspan x="758">西村 ひよ</tspan></text>
<text y="877"><tspan x="554">對馬 優</tspan><tspan x="580">・</tspan><tspan x="614">戸川 瑠花</tspan><tspan x="641">3</tspan><tspan x="660">—</tspan><tspan x="679">④</tspan><tspan x="704">林 咲花</tspan><tspan x="729">・</tspan><tspan x="758">早藤 樹里</tspan></text>
<text y="886"><tspan x="554" class="s">今井 寧々</tspan><tspan x="580">・</tspan><tspan x="614">三浦 綾花</tspan><tspan x="641">2</tspan><tspan x="660">—</tspan><tspan x="679">④</tspan><tspan x="704">太田 倫</tspan><tspan x="729">・</tspan><tspan x="758" class="s">松井 颯花</tspan></text>

<text y="941"><tspan x="647">宮本 絢菜</tspan><tspan x="679">・</tspan><tspan x="704">青木 希</tspan><tspan x="730">2</tspan><tspan x="744">—</tspan><tspan x="756">④</tspan><tspan x="782">上野 夏菜</tspan><tspan x="810">・</tspan><tspan x="839">庄司 実生</tspan></text>
<text y="950"><tspan x="647">大倉 心陽</tspan><tspan x="679">・</tspan><tspan x="704" class="s">八重樫 琴音</tspan><tspan x="730">④</tspan><tspan x="744">—</tspan><tspan x="756">1</tspan><tspan x="782">平田 心美</tspan><tspan x="810">・</tspan><tspan x="839">原田 鈴麻</tspan></text>
<text y="959"><tspan x="647">尾赤 咲娃</tspan><tspan x="679">・</tspan><tspan x="704" class="s">都竹 叶愛</tspan><tspan x="730">1</tspan><tspan x="744">—</tspan><tspan x="756">④</tspan><tspan x="782" class="s">西林 友依子</tspan><tspan x="810">・</tspan><tspan x="839">髙橋 悠</tspan></text>

<text y="1014"><tspan x="595">上野 夏菜</tspan><tspan x="629">・</tspan><tspan x="660">庄司 実生</tspan><tspan x="691">0</tspan><tspan x="703">—</tspan><tspan x="717">④</tspan><tspan x="744">原 綾那</tspan><tspan x="770">・</tspan><tspan x="798">西村 ひよ</tspan></text>
<text y="1023"><tspan x="595">平田 心美</tspan><tspan x="629">・</tspan><tspan x="660">原田 鈴麻</tspan><tspan x="691">0</tspan><tspan x="703">—</tspan><tspan x="717">④</tspan><tspan x="744">林 咲花</tspan><tspan x="770">・</tspan><tspan x="798">早藤 樹里</tspan></text>
<text y="1032"><tspan x="595" class="s">西林 友依子</tspan><tspan x="629">・</tspan><tspan x="660">髙橋 悠</tspan><tspan x="703">—</tspan><tspan x="744">太田 倫</tspan><tspan x="770">・</tspan><tspan x="798">松井 颯花</tspan></text>

<text y="1086.5"><tspan x="691">長瀬千咲</tspan><tspan x="714">・</tspan><tspan x="742">島田藍</tspan><tspan x="769">④</tspan><tspan x="782">—</tspan><tspan x="797">1</tspan><tspan x="819">山岡 美空</tspan><tspan x="842">・</tspan><tspan x="875">小林 紗梨</tspan></text>
<text y="1096"><tspan x="691">山崎苺碧</tspan><tspan x="714">・</tspan><tspan x="742">吉岡梨緒</tspan><tspan x="769">④</tspan><tspan x="782">—</tspan><tspan x="797">1</tspan><tspan x="819">森内 咲衣</tspan><tspan x="842">・</tspan><tspan x="875">青山 そな</tspan></text>
<text y="1105"><tspan x="691" class="s">芳田陽奈子</tspan><tspan x="714">・</tspan><tspan x="742">遠野遥</tspan><tspan x="769">④</tspan><tspan x="782">—</tspan><tspan x="797">3</tspan><tspan x="819">小保 舞莉</tspan><tspan x="842">・</tspan><tspan x="875">三好 遥陽</tspan></text>

<text y="1150"><tspan x="648">山崎苺碧</tspan><tspan x="679">・</tspan><tspan x="702">吉岡梨緒</tspan><tspan x="730">0</tspan><tspan x="744">—</tspan><tspan x="757">④</tspan><tspan x="784">原 綾那</tspan><tspan x="810">・</tspan><tspan x="837">西村 ひよ</tspan></text>
<text y="1160"><tspan x="648">長瀬千咲</tspan><tspan x="679">・</tspan><tspan x="702">島田藍</tspan><tspan x="730">④</tspan><tspan x="744">—</tspan><tspan x="757">3</tspan><tspan x="784">林 咲花</tspan><tspan x="810">・</tspan><tspan x="837">早藤 樹里</tspan></text>
<text y="1169"><tspan x="648">芳田陽奈子</tspan><tspan x="679">・</tspan><tspan x="702">遠野遥</tspan><tspan x="730">0</tspan><tspan x="744">—</tspan><tspan x="757">④</tspan><tspan x="784">太田 倫</tspan><tspan x="810">・</tspan><tspan x="837">松井 颯花</tspan></text>
</g>

<text id="footer" x="674" y="1225" font-size="8">公式HP: 和歌山県高体連ソフトテニス専門部</text>
</svg>
